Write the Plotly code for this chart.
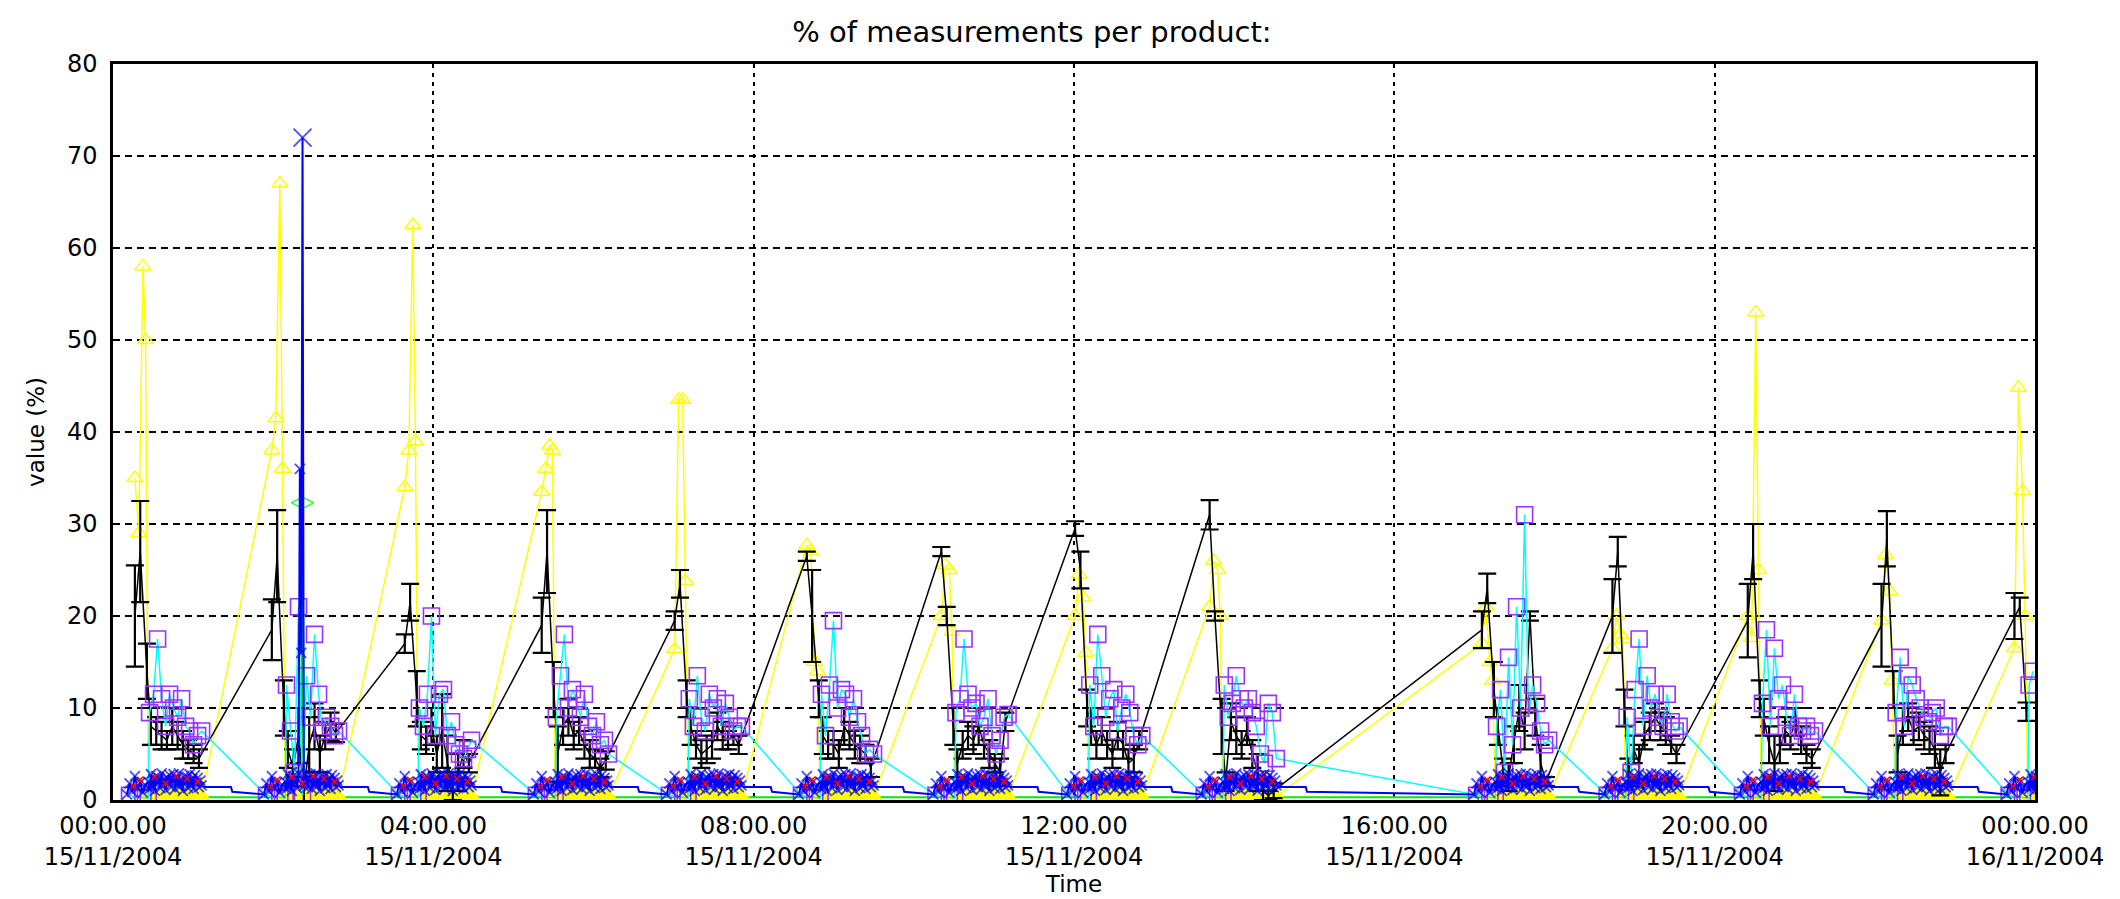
import plotly.graph_objects as go
from datetime import datetime, timedelta

BASE = datetime(2004, 11, 15)

# start of each measurement burst (hours after 00:00 15/11/2004)
CLUSTER_START_H = [0.44, 2.15, 3.81, 5.52, 7.18, 8.83, 10.51, 12.18, 13.86,
                   17.26, 18.89, 20.58, 22.25, 23.91]

# ---------------- yellow (triangles) ----------------
YEL_PEAK_OFF = [-10, -7, -4, -2]          # minutes relative to burst start
YEL_PEAKS = [
    [35, 29, 58, 50], [38, 41.5, 67, 36], [34, 38, 62.5, 39], [33.5, 36, 38.5, 38],
    [16.4, 43.5, 43.5, 23.8], [27.7, 27, 15, 14], [20, 25.5, 25, 18.3], [20, 24.5, 22, 16],
    [21, 26, 25, 20], [17, 21, 15, 13], [16.5, 20, 18, 17.5], [20, 17.6, 53, 25],
    [19.5, 26.6, 22.7, 13], [16.5, 44.8, 33.6, 20],
]
BAND_OFF = [0, 2, 4, 6, 8, 10, 12, 14, 16, 18, 20, 22, 24, 26, 28, 30, 32, 34, 36, 38, 40]
YEL_BAND = [0.5, 0.4, 0.6, 0.5, 0.4, 0.5, 0.6, 0.4, 0.5, 0.5, 0.4, 0.6, 0.5, 0.4,
            0.5, 0.6, 0.5, 0.4, 0.5, 0.5, 0.4]

# ---------------- black (error bars) ----------------
BLK_OFF = [-10, -6, -1, 2, 6, 10, 14, 18, 22, 26, 30, 34, 38]
BLK_VALS = [
    [20, 27, 14, 8, 7.5, 7, 6.5, 8, 7, 6, 5.5, 5, 4.5],
    [18.5, 26.5, 10, 5.5, 3.5, 7, 1, 6, 8, 5, 7, 8, 7.3],
    [17, 21.5, 11, 7, 6.5, 8, 5, 7.5, 4, 1.5, 3, 5, 4],
    [19, 27, 12, 5, 8, 9, 7, 7.5, 6, 5, 4.5, 3.5, 4.3],
    [19.5, 23.5, 11, 8, 6, 5, 5.5, 6, 8, 7, 6.5, 7, 6],
    [26.5, 20, 11, 7, 6, 6, 5, 8, 7, 6, 5.5, 5, 3.5],
    [27, 20, 8, 4, 6, 7, 6.5, 8, 6, 5, 4, 3, 8.5],
    [29.5, 25, 10, 8, 6, 7.5, 6, 5, 7, 6, 4, 4.5, 6.5],
    [31, 20, 8, 2, 8.5, 7, 6, 7.5, 5, 3, 1, 0.5, 1],
    [18.5, 23, 12, 8, 3, 2.5, 6, 10, 7.5, 20, 9, 4, 2],
    [20, 27, 10, 3, 5.5, 4, 7, 8, 9, 8, 7.5, 6, 5],
    [19.5, 27, 11, 9, 6, 4, 5.5, 7.5, 7, 8.5, 6.5, 5, 4.5],
    [19, 28.4, 12, 5, 8, 9, 7.5, 8, 7, 6.5, 5.5, 3, 5],
    [20, 21, 9.6],
]
BLK_ERR = [
    [5.5, 5.5, 3, 2, 1.5, 1.5, 1, 2, 1.5, 1.5, 1, 1, 1],
    [3.3, 5, 3, 2, 2, 3, 1.5, 3, 2.5, 2, 1.5, 1.5, 1],
    [1, 2, 3, 1.5, 1.5, 2, 2, 4, 3, 1.5, 2, 1.5, 1],
    [3, 4.5, 3, 3, 2, 2, 1.5, 1.5, 1.5, 1.5, 1, 1, 1],
    [1, 1.5, 2, 2, 1.5, 1.5, 1.5, 1.5, 1.5, 1.5, 1, 1, 1],
    [0.5, 5, 2, 2, 1.5, 1.5, 1.5, 2, 1.5, 1.5, 1.5, 1, 1],
    [0.5, 1, 2, 1.5, 1.5, 1.5, 1.5, 2, 1.5, 1.5, 1, 1.5, 1],
    [0.8, 2, 2, 2, 1.5, 1.5, 1.5, 1.5, 1.5, 1.5, 1.5, 1.5, 1],
    [1.6, 0.5, 3, 1, 2, 2, 1.5, 1.5, 1.5, 2, 1, 0.5, 0.8],
    [2, 1.6, 3, 2, 1.5, 1.5, 2, 2.5, 2, 0.5, 2, 2, 0.5],
    [4, 1.6, 2, 1.5, 1.5, 2, 1.5, 1.5, 1.5, 1.5, 1.5, 1, 1],
    [4, 3, 2, 2, 2, 3, 1.5, 1.5, 1.5, 1.5, 1.5, 1, 1],
    [4.5, 3, 2, 2, 2, 1.5, 1.5, 1.5, 1.5, 1.5, 2, 2.5, 1],
    [2.5, 1, 1],
]

# ---------------- cyan line with purple squares ----------------
CY_OFF = [-14, -4, 0, 1, 4, 7, 10, 13, 16, 19, 22, 25, 28, 31, 34, 37, 40]
CY_VALS = [
    [0.5, 0.3, 0.2, 9.5, 11.5, 17.5, 11, 8, 11.5, 10, 9, 11, 8, 7.5, 6, 7, 7.5],
    [0.5, 0.3, 0.2, 12.5, 7.5, 3, 21, 0.5, 13.5, 9, 18, 11.5, 7.5, 9, 8, 7, 7.5],
    [0.5, 0.3, 0.2, 10, 8, 11.5, 20, 7, 11.5, 12, 7, 8.5, 6, 5, 4.5, 5.5, 6.5],
    [0.5, 0.3, 0.2, 9, 13.5, 18, 10, 12, 11, 9, 11.5, 8, 7, 8.5, 6, 6.5, 5],
    [0.5, 0.3, 0.2, 11, 8, 13.5, 9, 7.5, 11.5, 10, 11, 8, 10.5, 9, 7.5, 8, 8],
    [0.5, 0.3, 0.2, 11.5, 7, 12.5, 19.5, 10, 12, 11.5, 9, 11, 8.5, 7, 5, 5.5, 5],
    [0.5, 0.3, 0.2, 9.5, 11, 17.5, 11.5, 10, 10.5, 8, 9, 11, 7, 5, 6.5, 9, 9.3],
    [0.5, 0.3, 0.2, 12.5, 8, 18, 13.5, 9, 11, 12, 7.5, 10, 11.5, 9.5, 7, 6, 7],
    [0.5, 0.3, 0.2, 12.5, 9, 10.5, 13.5, 11, 10, 11, 9.5, 8, 5, 4, 10.5, 9.5, 4.5],
    [0.5, 0.3, 0.2, 8, 12, 3, 15.5, 6, 21, 10, 31, 9, 12.5, 10.5, 7.5, 6, 6.5],
    [0.5, 0.3, 0.2, 9, 3, 12, 17.5, 8, 13.5, 10, 11.5, 9, 8, 11.5, 8.5, 7.5, 8],
    [0.5, 0.3, 0.2, 10.5, 18.5, 8, 16.5, 11, 12.5, 9, 7, 11.5, 8, 7.5, 8, 7, 7.5],
    [0.5, 0.3, 0.2, 9.5, 15.5, 8, 13.5, 12.5, 11, 10, 9, 8.5, 9.5, 10, 7, 8, 8],
    [0.5, 0.3, 0.2, 12.5, 14],
]

# ---------------- blue (x markers) ----------------
BLUE_OFF = [-16, -14, -12, -10, -8, -6, -4, -2, 0, 1, 2, 3, 4, 5, 6, 7, 8, 9, 10, 11, 12,
            13, 14, 15, 16, 17, 18, 19, 20, 21, 22, 23, 24, 25, 26, 27, 28, 29, 30,
            31, 32, 33, 34, 35, 36, 37, 38, 39, 40, 42, 62, 63]
BLUE_VALS_TYPICAL = [0.6, 1.8, 0.9, 2.6, 1.2, 1.9, 0.8, 1.6,
                     2.0, 1.2, 2.8, 1.4, 2.3, 1.0, 2.6, 1.8, 2.4, 1.3, 2.9, 1.7, 2.2,
                     1.1, 2.5, 1.9, 2.7, 1.4, 2.1, 2.8, 1.2, 2.4, 1.6, 2.9, 1.5, 2.2,
                     1.0, 2.6, 1.8, 2.5, 1.3, 2.8, 1.6, 2.3, 1.2, 2.7, 1.9, 2.4, 1.4,
                     2.1, 1.6, 1.4, 1.4, 0.9]
BLUE_VALS_C2 = [0.6, 1.8, 0.9, 2.6, 1.2, 1.9, 0.8, 1.6,
                2.0, 1.2, 2.8, 1.4, 2.3, 1.0, 2.6, 1.8, 2.4, 1.3, 2.9, 36, 16,
                72, 1.5, 1.9, 2.7, 1.4, 2.1, 2.8, 1.2, 2.4, 1.6, 2.9, 1.5, 2.2,
                1.0, 2.6, 1.8, 2.5, 1.3, 2.8, 1.6, 2.3, 1.2, 2.7, 1.9, 2.4, 1.4,
                2.1, 1.6, 1.4, 1.4, 0.9]

# ---------------- red (small markers) ----------------
RED_OFF = [-11, -6, 5, 13, 21, 29, 37]
RED_VALS = [1.5, 2.2, 2.5, 1.8, 2.6, 2.3, 2.0]

# ---------------- green (baseline) ----------------
GREEN_OFF = [-12, 0, 12, 13, 14, 40]
GREEN_VALS_TYPICAL = [0.3, 0.3, 0.3, 0.3, 0.3, 0.3]
GREEN_VALS_C2 = [0.3, 0.3, 0.3, 32.3, 0.3, 0.3]


def t(start_h, off_min):
    return BASE + timedelta(hours=start_h, minutes=off_min)


yx, yy, ysym = [], [], []
bx, by, be = [], [], []
cx, cy = [], []
ux, uy, usz = [], [], []
rx, ry = [], []
gx, gy, gsz = [], [], []
for i, s in enumerate(CLUSTER_START_H):
    for o, v in zip(YEL_PEAK_OFF, YEL_PEAKS[i]):
        yx.append(t(s, o)); yy.append(v); ysym.append("triangle-up-open")
    for o, v in zip(BAND_OFF, YEL_BAND):
        yx.append(t(s, o)); yy.append(v); ysym.append("triangle-up")
    for o, v, e in zip(BLK_OFF, BLK_VALS[i], BLK_ERR[i]):
        bx.append(t(s, o)); by.append(v); be.append(e)
    for o, v in zip(CY_OFF, CY_VALS[i]):
        cx.append(t(s, o)); cy.append(v)
    bv = BLUE_VALS_C2 if i == 1 else BLUE_VALS_TYPICAL
    for k, (o, v) in enumerate(zip(BLUE_OFF, bv)):
        ux.append(t(s, o)); uy.append(v)
        usz.append(0 if k >= len(BLUE_OFF) - 3 else (18 if v > 50 else 10))
    for o, v in zip(RED_OFF, RED_VALS):
        rx.append(t(s, o)); ry.append(v)
    gv = GREEN_VALS_C2 if i == 1 else GREEN_VALS_TYPICAL
    for o, v in zip(GREEN_OFF, gv):
        gx.append(t(s, o)); gy.append(v); gsz.append(16 if v > 5 else 0)

fig = go.Figure()
fig.add_trace(go.Scatter(
    x=gx, y=gy, mode="lines+markers",
    line=dict(color="#00ee00", width=2),
    marker=dict(symbol="diamond-wide-open", size=gsz, color="#00ee00", line=dict(color="#00ee00", width=1.6)),
))
fig.add_trace(go.Scatter(
    x=yx, y=yy, mode="lines+markers",
    line=dict(color="#ffff00", width=1.5),
    marker=dict(symbol=ysym, size=14, color="#ffff00", line=dict(color="#ffff00", width=1.5)),
))
fig.add_trace(go.Scatter(
    x=bx, y=by, mode="lines",
    line=dict(color="black", width=1.5),
    error_y=dict(type="data", array=be, visible=True, color="black", thickness=2.2, width=9),
))
fig.add_trace(go.Scatter(
    x=cx, y=cy, mode="lines+markers",
    line=dict(color="#00ffff", width=1.5),
    marker=dict(symbol="square-open", size=16, color="#9933ff", line=dict(color="#9933ff", width=1.6)),
))
fig.add_trace(go.Scatter(
    x=ux, y=uy, mode="lines+markers",
    line=dict(color="#0000ff", width=2),
    marker=dict(symbol="x-thin-open", size=usz, color="#0000ff", line=dict(color="#0000ff", width=1.8)),
))
fig.add_trace(go.Scatter(
    x=rx, y=ry, mode="markers",
    marker=dict(symbol="x-thin-open", size=6, color="#ff0000", line=dict(color="#ff0000", width=1.5)),
))

FONT = "DejaVu Sans"
fig.update_layout(
    width=2120, height=899,
    margin=dict(l=105, r=93, t=56, b=107),
    paper_bgcolor="white", plot_bgcolor="white",
    showlegend=False,
    font=dict(family=FONT, size=24, color="black"),
    title=dict(text="% of measurements per product:", x=1024 / 2120, xanchor="center",
               y=1 - 24 / 899, yanchor="middle", font=dict(family=FONT, size=29, color="black")),
)
fig.update_xaxes(
    type="date",
    range=[BASE, BASE + timedelta(hours=24)],
    tick0=BASE, dtick=4 * 3600 * 1000,
    tickformat="%H:%M.%S<br>%d/%m/%Y",
    ticks="", ticklabelstandoff=2,
    showgrid=True, gridcolor="black", gridwidth=2, griddash="4px,5px",
    showline=True, mirror=True, linecolor="black", linewidth=2.5,
    zeroline=False,
    title=dict(text="Time", standoff=0, font=dict(family=FONT, size=23)),
    automargin=False,
)
fig.update_yaxes(
    range=[0, 80], dtick=10, tick0=0,
    ticks="", ticklabelstandoff=8,
    showgrid=True, gridcolor="black", gridwidth=2, griddash="7px,5px",
    showline=True, mirror=True, linecolor="black", linewidth=2.5,
    zeroline=False,
    title=dict(text="value (%)", standoff=16, font=dict(family=FONT, size=23)),
    automargin=False,
)

fig.write_html("out.html")
